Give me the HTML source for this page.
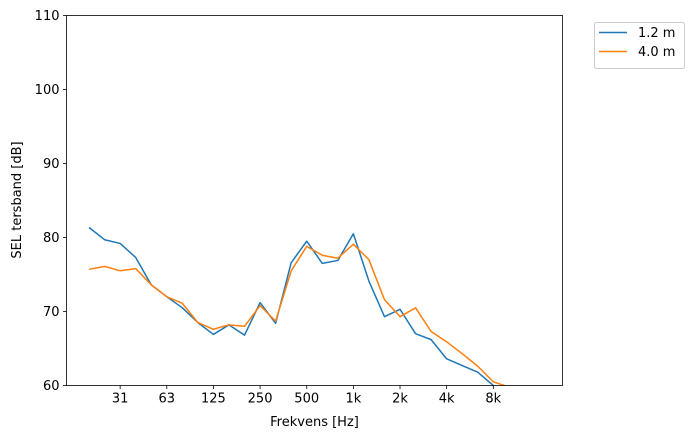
<!DOCTYPE html>
<html><head><meta charset="utf-8"><style>
body{margin:0;background:#fff;width:693px;height:438px;overflow:hidden}
svg text{font-family:"DejaVu Sans","Liberation Sans",sans-serif;font-size:13px;fill:#000}
</style></head><body>
<svg id="chart" width="693" height="438" viewBox="0 0 693 438" xmlns="http://www.w3.org/2000/svg"></svg>
<script>
const categories = ["20","25","31","40","50","63","80","100","125","160","200","250","315","400","500","630","800","1k","1.25k","1.6k","2k","2.5k","3.15k","4k","5k","6.3k","8k","10k","12.5k","16k"];
const tickLabels = ["31","63","125","250","500","1k","2k","4k","8k"];
const tickIdx = [2,5,8,11,14,17,20,23,26];
const yTicks = [60,70,80,90,100,110];
const series12 = [81.35,79.7,79.2,77.3,73.6,72.0,70.5,68.5,66.9,68.2,66.8,71.2,68.4,76.6,79.5,76.5,76.9,80.5,74.1,69.3,70.3,67.0,66.2,63.6,62.7,61.8,60.0,58.0,56.5,55.0];
const series40 = [75.7,76.1,75.5,75.8,73.6,72.0,71.1,68.5,67.6,68.2,68.0,70.8,68.7,75.5,78.8,77.6,77.2,79.1,77.0,71.6,69.3,70.5,67.3,65.9,64.3,62.6,60.5,59.8,58.5,57.0];
const svg=document.getElementById('chart');const NS='http://www.w3.org/2000/svg';
const L=66.5,R=562.5,T=15.5,B=385.5;
const xmin=-1.45,xmax=30.45,ymin=60,ymax=110;
const xs=i=>L+(i-xmin)/(xmax-xmin)*(R-L);
const ys=v=>B-(v-ymin)/(ymax-ymin)*(B-T);
function mk(t,a,p){const e=document.createElementNS(NS,t);for(const k in a)e.setAttribute(k,a[k]);(p||svg).appendChild(e);return e;}
const defs=mk('defs',{});const cp=mk('clipPath',{id:'clip'},defs);mk('rect',{x:L,y:T,width:R-L,height:B-T},cp);
function line(data,color,name){
  const pts=data.map((v,i)=>xs(i).toFixed(2)+','+ys(v).toFixed(2)).join(' ');
  const e=mk('polyline',{points:pts,fill:'none',stroke:color,'stroke-width':1.5,'clip-path':'url(#clip)','stroke-linejoin':'round'});
  
  
}
line(series12,'#1f77b4','series-1-2m');
line(series40,'#ff7f0e','series-4-0m');
const fr=mk('rect',{x:L,y:T,width:R-L,height:B-T,fill:'none',stroke:'#000','stroke-width':0.8});


tickIdx.forEach((ti,k)=>{const x=xs(ti);mk('line',{x1:x,x2:x,y1:B,y2:B+3.5,stroke:'#000','stroke-width':0.8});
  const t=mk('text',{x:x,y:B+17,'text-anchor':'middle'});t.textContent=tickLabels[k];
  
  });
yTicks.forEach(v=>{const y=ys(v);mk('line',{x1:L-3.5,x2:L,y1:y,y2:y,stroke:'#000','stroke-width':0.8});
  const t=mk('text',{x:L-7,y:y+4.5,'text-anchor':'end'});t.textContent=v;
  
  });
const xt=mk('text',{x:(L+R)/2,y:426,'text-anchor':'middle'});xt.textContent='Frekvens [Hz]';


const yt=mk('text',{x:21,y:200,'text-anchor':'middle',transform:'rotate(-90 21 200)'});yt.textContent='SEL tersband [dB]';


const lg=mk('g',{});


mk('rect',{x:594.5,y:22.5,width:90,height:46,rx:2,fill:'#fff',stroke:'#ccc','stroke-width':1},lg);
[['1.2 m','#1f77b4',37],['4.0 m','#ff7f0e',56]].forEach(([n,c,y])=>{
  mk('line',{x1:599,x2:627,y1:y-4.5,y2:y-4.5,stroke:c,'stroke-width':1.5},lg);
  const t=mk('text',{x:638,y:y},lg);t.textContent=n;
  
  
});
</script>
</body></html>
